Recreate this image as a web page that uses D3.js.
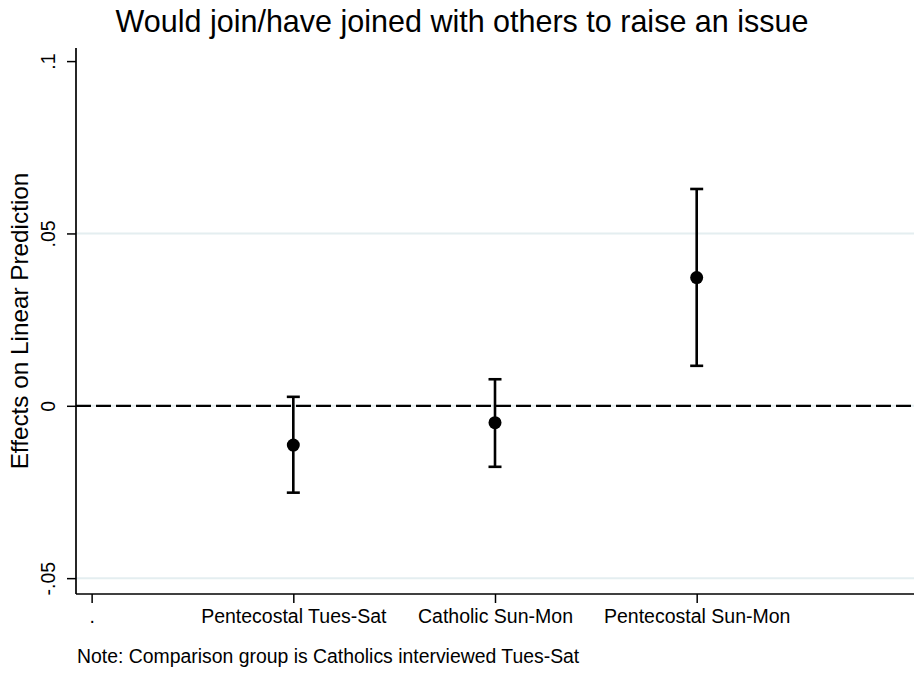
<!DOCTYPE html>
<html>
<head>
<meta charset="utf-8">
<script src="https://cdn.jsdelivr.net/npm/d3@7"></script>
<style>
  html, body { margin: 0; padding: 0; background: #fff; }
  svg { display: block; font-family: "Liberation Sans", Arial, sans-serif; }
</style>
</head>
<body>
<svg id="chart" width="914" height="673"></svg>
<script>
// Margins (point estimates with 95% CIs), comparison group = Catholics Tues-Sat
const categories = [".", "Pentecostal Tues-Sat", "Catholic Sun-Mon", "Pentecostal Sun-Mon"];
const estimateCats = ["Pentecostal Tues-Sat", "Catholic Sun-Mon", "Pentecostal Sun-Mon"];
const estimates = [-0.0114, -0.0049, 0.0372];
const ciLower = [-0.0252, -0.0177, 0.0116];
const ciUpper = [0.0026, 0.0077, 0.0629];
const yTickValues = [-0.05, 0, 0.05, 0.1];
const yTickLabels = ["-.05", "0", ".05", ".1"];
const gridValues = [-0.05, 0, 0.05];

const titleText = "Would join/have joined with others to raise an issue";
const yTitleText = "Effects on Linear Prediction";
const noteText = "Note: Comparison group is Catholics interviewed Tues-Sat";

const W = 914, H = 673;
const plot = { left: 76, right: 914, top: 48, bottom: 594 };

const svg = d3.select("#chart");

const x = d3.scaleLinear()
  .domain([-0.0775, categories.length - 1 + 1.0775])
  .range([plot.left, plot.right]);

const y = d3.scaleLinear()
  .domain([-0.0546, 0.1038])
  .range([plot.bottom, plot.top]);

// Gridlines
svg.append("g")
  .selectAll("line")
  .data(gridValues)
  .join("line")
  .attr("x1", plot.left).attr("x2", plot.right)
  .attr("y1", d => y(d)).attr("y2", d => y(d))
  .attr("stroke", "#e4eef0")
  .attr("stroke-width", 2);

// Reference line at zero
svg.append("line")
  .attr("x1", plot.left).attr("x2", plot.right)
  .attr("y1", y(0)).attr("y2", y(0))
  .attr("stroke", "#000")
  .attr("stroke-width", 2.2)
  .attr("stroke-dasharray", "15,5");

// Y axis
const yAxis = svg.append("g")
  .attr("transform", `translate(${plot.left},0)`)
  .call(d3.axisLeft(y)
    .tickValues(yTickValues)
    .tickFormat((d, i) => yTickLabels[i])
    .tickSize(9)
    .tickPadding(0));
yAxis.select(".domain")
  .attr("d", `M0,${plot.top}V${plot.bottom}`)
  .attr("stroke", "#000").attr("stroke-width", 1.7);
yAxis.selectAll(".tick line").attr("stroke", "#000").attr("stroke-width", 1.5);
yAxis.selectAll(".tick text")
  .attr("x", null).attr("dy", null)
  .attr("transform", "translate(-21,0) rotate(-90)")
  .attr("text-anchor", "middle")
  .attr("font-size", 19.5)
  .attr("font-family", "Liberation Sans, Arial, sans-serif")
  .attr("fill", "#000");

// X axis
const xAxis = svg.append("g")
  .attr("transform", `translate(0,${plot.bottom})`)
  .call(d3.axisBottom(x)
    .tickValues(d3.range(categories.length))
    .tickFormat(i => categories[i])
    .tickSize(9)
    .tickPadding(0));
xAxis.select(".domain")
  .attr("d", `M${plot.left},0H${plot.right}`)
  .attr("stroke", "#000").attr("stroke-width", 1.7);
xAxis.selectAll(".tick line").attr("stroke", "#000").attr("stroke-width", 1.5);
xAxis.selectAll(".tick text")
  .attr("y", 29).attr("dy", null)
  .attr("font-size", 19.5)
  .attr("font-family", "Liberation Sans, Arial, sans-serif")
  .attr("fill", "#000");

// Confidence intervals and point estimates
const pos = c => x(categories.indexOf(c));
const g = svg.append("g");
const rows = estimateCats.map((c, i) => ({ c, est: estimates[i], lo: ciLower[i], hi: ciUpper[i] }));

g.selectAll("line.ci")
  .data(rows).join("line").attr("class", "ci")
  .attr("x1", d => pos(d.c)).attr("x2", d => pos(d.c))
  .attr("y1", d => y(d.lo)).attr("y2", d => y(d.hi))
  .attr("stroke", "#000").attr("stroke-width", 2.6);

const capW = 6.5;
["lo", "hi"].forEach(k => {
  g.selectAll("line.cap-" + k)
    .data(rows).join("line").attr("class", "cap-" + k)
    .attr("x1", d => pos(d.c) - capW).attr("x2", d => pos(d.c) + capW)
    .attr("y1", d => y(d[k])).attr("y2", d => y(d[k]))
    .attr("stroke", "#000").attr("stroke-width", 2.6);
});

g.selectAll("circle")
  .data(rows).join("circle")
  .attr("cx", d => pos(d.c)).attr("cy", d => y(d.est))
  .attr("r", 6.5)
  .attr("fill", "#000");

// Title
svg.append("text")
  .attr("x", 462).attr("y", 32)
  .attr("text-anchor", "middle")
  .attr("font-size", 30.5)
  .attr("fill", "#000")
  .text(titleText);

// Y axis title
svg.append("text")
  .attr("transform", `translate(28,${(plot.top + plot.bottom) / 2}) rotate(-90)`)
  .attr("text-anchor", "middle")
  .attr("font-size", 24.3)
  .attr("fill", "#000")
  .text(yTitleText);

// Note
svg.append("text")
  .attr("x", 77).attr("y", 663)
  .attr("font-size", 19.4)
  .attr("fill", "#000")
  .text(noteText);
</script>
</body>
</html>
